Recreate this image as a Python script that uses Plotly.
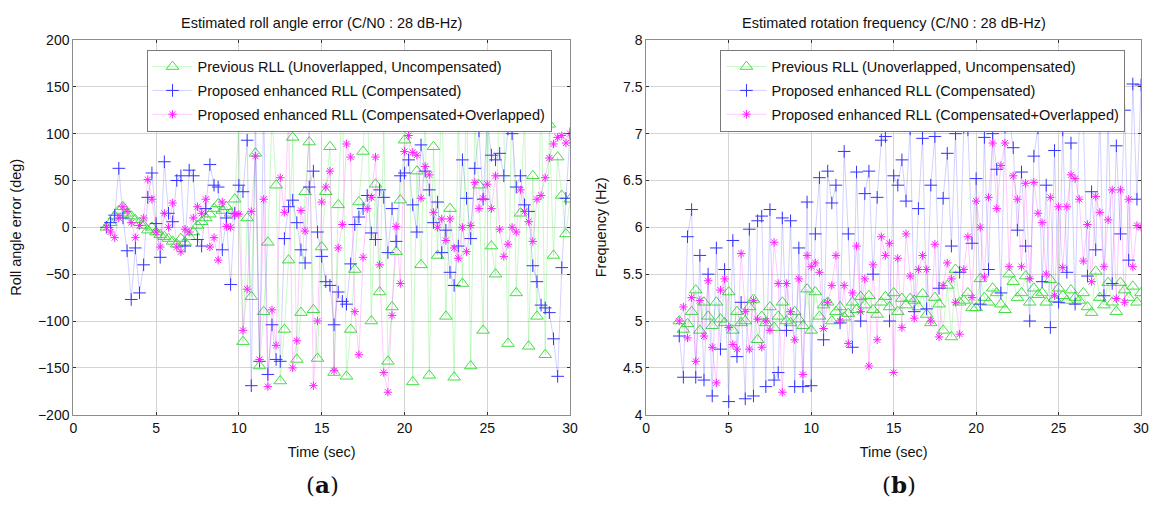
import plotly.graph_objects as go

# ---------------- data ----------------
time_s = [
    2.0, 2.25, 2.5, 2.75, 3.0, 3.25, 3.5, 3.75,
    4.0, 4.25, 4.5, 4.75, 5.0, 5.25, 5.5, 5.75,
    6.0, 6.25, 6.5, 6.75, 7.0, 7.25, 7.5, 7.75,
    8.0, 8.25, 8.5, 8.75, 9.0, 9.25, 9.5, 9.75,
    10.0, 10.25, 10.5, 10.75, 11.0, 11.25, 11.5, 11.75,
    12.0, 12.25, 12.5, 12.75, 13.0, 13.25, 13.5, 13.75,
    14.0, 14.25, 14.5, 14.75, 15.0, 15.25, 15.5, 15.75,
    16.0, 16.25, 16.5, 16.75, 17.0, 17.25, 17.5, 17.75,
    18.0, 18.25, 18.5, 18.75, 19.0, 19.25, 19.5, 19.75,
    20.0, 20.25, 20.5, 20.75, 21.0, 21.25, 21.5, 21.75,
    22.0, 22.25, 22.5, 22.75, 23.0, 23.25, 23.5, 23.75,
    24.0, 24.25, 24.5, 24.75, 25.0, 25.25, 25.5, 25.75,
    26.0, 26.25, 26.5, 26.75, 27.0, 27.25, 27.5, 27.75,
    28.0, 28.25, 28.5, 28.75, 29.0, 29.25, 29.5, 29.75,
    30.0,
]

# (a) roll angle error (deg)
roll_prev = [
    0, 5, 12, 18, 22, 15, 12, 8,
    5, 2, -3, 0, -5, -8, -10, -12,
    -15, -18, -12, -16, -10, -5, 2, 6,
    10, 14, 20, 25, 18, 22, 15, 30,
    110, -122, 10, -74, 79, -148, -90, -16,
    119, 45, -164, -109, -35, 96, -141, -91,
    38, 91, -88, -140, -21, 38, 86, -155,
    24, 150, -159, -109, -45, 27, 81, 170,
    -100, 46, -69, 107, -143, -85, -26, 29,
    93, 175, -165, 60, -40, 130, -158, 86,
    -30, 160, -95, 20, -160, 120, -60, 150,
    -148, 110, 45, -110, 140, -20, -50, 180,
    110, -124, 170, -70, 15, 120, -127, 55,
    -95, 160, -136, 110, -30, 75, 34, -7,
    30,
]
roll_comp = [
    0, 5, 13, 63, 10, -25, -77, -22,
    -70, -40, 32, 58, 4, -32, 70, 15,
    6, 50, 55, -20, 61, 55, -13, -20,
    20, 67, 45, 43, -24, 10, -61, 15,
    45, 38, 93, -169, 120, -143, 130, -157,
    -104, -141, -143, -12, 22, 29, 5, -24,
    -38, 43, 60, -5, -31, -58, -62, -104,
    -69, -79, -82, -39, 3, 11, 20, 34,
    -6, -13, 40, 32, -27, 20, -15, 55,
    58, 72, 24, -5, 88, 60, 40, 5,
    27, -27, -3, -48, -62, -20, 72, 31,
    -12, 63, 103, 30, 115, 77, 72, 79,
    55, 105, 100, 43, 55, 24, 17, -41,
    -58, -83, -86, -91, -119, -159, -43, 31,
    100,
]
roll_overlap = [
    0, -5, -11, 10, 22, 17, 5, -11,
    2, 10, 51, 30, -5, -21, 15, 0,
    26, -21, -26, -2, -5, 10, 22, 15,
    30, -21, -11, -35, 27, 1, 0, 14,
    14, -110, -66, 17, 76, -141, 30, -170,
    -88, -126, 53, 16, 117, -150, -121, 18,
    -4, 117, -169, -100, 27, 43, 60, -153,
    -22, 3, 89, 75, -90, -136, -32, 20,
    32, 75, -40, -155, -176, -94, 1, -60,
    81, 98, 80, 77, 31, 65, 56, 16,
    0, 9, -14, 9, -22, -33, 0, -26,
    2, 48, 20, 31, 46, 20, 55, -2,
    -31, -18, 0, -5, 40, 17, 6, -15,
    30, 34, 53, 74, 89, 96, 98, 90,
    100,
]

# (b) rotation frequency (Hz)
freq_prev = [
    5.00, 4.91, 4.97, 5.10, 5.33, 4.90, 5.20, 5.05,
    4.95, 5.20, 5.02, 4.98, 5.31, 4.90, 5.10, 4.98,
    5.00, 5.15, 5.23, 4.80, 5.05, 4.98, 5.15, 4.93,
    5.05, 5.20, 5.00, 4.98, 5.10, 5.02, 4.95, 5.34,
    4.90, 5.31, 5.05, 5.17, 5.20, 5.00, 5.10, 5.15,
    5.04, 5.08, 5.20, 5.12, 5.26, 5.17, 5.27, 5.12,
    5.07, 5.20, 5.26, 5.15, 5.30, 5.10, 5.24, 5.17,
    5.24, 5.22, 5.15, 5.29, 5.07, 4.98, 5.25, 5.18,
    4.90, 5.38, 4.83, 5.55, 5.20, 5.22, 5.30, 5.14,
    5.14, 5.45, 5.25, 5.20, 5.35, 5.30, 5.18, 5.12,
    5.50, 5.42, 5.25, 5.30, 5.48, 5.20, 5.35, 5.28,
    5.30, 5.20, 5.44, 5.24, 5.35, 5.27, 5.22, 5.33,
    5.25, 5.22, 5.30, 5.15, 5.09, 5.53, 5.25, 5.17,
    5.41, 5.20, 5.10, 5.41, 5.33, 5.25, 5.37, 5.20,
    5.30,
]
freq_comp = [
    4.84, 4.40, 5.90, 6.19, 4.40, 5.70, 4.37, 5.50,
    4.20, 5.78, 4.70, 5.55, 4.14, 5.86, 4.62, 5.20,
    4.17, 5.98, 4.20, 6.07, 6.12, 4.30, 6.19, 4.37,
    4.45, 6.10, 4.90, 6.07, 4.30, 5.78, 4.30, 6.27,
    4.31, 5.93, 6.53, 4.80, 6.60, 6.26, 6.45, 4.98,
    6.81, 5.93, 4.72, 6.59, 5.00, 6.36, 6.60, 5.50,
    6.32, 6.93, 6.97, 5.00, 6.55, 6.45, 6.72, 6.28,
    7.05, 5.10, 6.20, 6.95, 5.13, 6.45, 6.97, 5.35,
    6.31, 6.79, 5.80, 7.00, 5.52, 7.07, 7.04, 5.83,
    6.52, 5.18, 6.96, 5.55, 7.00, 6.62, 5.30, 7.07,
    7.17, 6.85, 5.97, 6.59, 5.80, 5.00, 6.76, 7.06,
    5.42, 6.45, 4.93, 6.82, 5.20, 7.04, 5.52, 6.90,
    5.18, 7.10, 7.16, 5.48, 6.38, 5.76, 7.20, 5.27,
    7.20, 5.40, 6.87, 5.93, 7.25, 5.65, 7.53, 6.30,
    7.52,
]
freq_overlap = [
    5.00, 5.15, 4.82, 5.25, 4.57, 5.22, 4.84, 5.43,
    4.72, 4.34, 5.33, 5.45, 4.93, 4.75, 4.70, 5.72,
    5.10, 4.70, 5.22, 5.02, 4.72, 5.00, 4.90, 5.84,
    5.40, 4.24, 5.40, 5.10, 4.80, 5.45, 4.43, 5.70,
    5.58, 5.62, 5.52, 4.92, 5.20, 5.38, 5.70, 5.00,
    5.38, 4.76, 5.30, 5.80, 5.10, 5.45, 4.52, 5.60,
    4.80, 5.90, 5.70, 5.83, 4.45, 5.67, 4.93, 5.93,
    5.48, 5.03, 5.55, 5.70, 5.55, 5.00, 5.82, 4.83,
    5.38, 5.62, 5.45, 5.20, 4.86, 5.55, 5.90, 5.25,
    6.28, 6.00, 5.47, 6.32, 6.90, 6.20, 6.66, 6.90,
    5.58, 6.55, 6.30, 5.58, 6.47, 5.45, 6.48, 6.15,
    6.05, 5.50, 6.32, 5.27, 6.22, 5.57, 6.22, 6.56,
    6.52, 6.30, 5.64, 6.03, 5.42, 6.33, 6.16, 5.58,
    6.08, 6.40, 5.24, 6.40, 5.20, 6.30, 5.58, 6.02,
    6.00,
]

series_names = [
    "Previous RLL (Unoverlapped, Uncompensated)",
    "Proposed enhanced RLL (Compensated)",
    "Proposed enhanced RLL (Compensated+Overlapped)",
]
x_ticks = [0, 5, 10, 15, 20, 25, 30]
roll_ticks = [-200, -150, -100, -50, 0, 50, 100, 150, 200]
freq_ticks = [4, 4.5, 5, 5.5, 6, 6.5, 7, 7.5, 8]

# ---------------- styling ----------------
FONT = "Liberation Sans, Arial, sans-serif"
W, H = 1156, 506
styles = [
    dict(line=dict(color="rgba(60,230,60,0.4)", width=0.7),
         marker=dict(symbol="triangle-up-open", size=11, color="#44dd44",
                     line=dict(width=1, color="#44dd44"))),
    dict(line=dict(color="rgba(40,40,255,0.3)", width=0.7),
         marker=dict(symbol="cross-thin-open", size=9, color="#3333ff",
                     line=dict(width=1, color="#3333ff"))),
    dict(line=dict(color="rgba(255,0,255,0.3)", width=0.7),
         marker=dict(symbol="asterisk-open", size=7, color="#ff22ff",
                     line=dict(width=1, color="#ff22ff"))),
]

fig = go.Figure()
for i, ys in enumerate([roll_prev, roll_comp, roll_overlap]):
    fig.add_trace(go.Scatter(x=time_s, y=ys, mode="lines+markers",
                             name=series_names[i], xaxis="x", yaxis="y",
                             legend="legend", legendgroup="a%d" % i,
                             **styles[i]))
for i, ys in enumerate([freq_prev, freq_comp, freq_overlap]):
    fig.add_trace(go.Scatter(x=time_s, y=ys, mode="lines+markers",
                             name=series_names[i], xaxis="x2", yaxis="y2",
                             legend="legend2", legendgroup="b%d" % i,
                             **styles[i]))

def px_x(p):
    return p / W

def px_y(p):
    return 1 - p / H

axis_common = dict(
    showline=True, linecolor="#8c8c8c", linewidth=1, mirror="ticks",
    ticks="inside", ticklen=3, tickcolor="#333333",
    showgrid=True, gridcolor="#d4d4d4", gridwidth=1,
    zeroline=False, tickfont=dict(family=FONT, size=14, color="#111"),
)

left_dom = [px_x(70), px_x(572)]
right_dom = [px_x(649), px_x(1149)]
y_dom = [px_y(420), px_y(33)]

title_font = dict(family=FONT, size=14.5, color="#111")

fig.update_layout(
    width=W, height=H,
    margin=dict(l=0, r=0, t=0, b=0),
    paper_bgcolor="white", plot_bgcolor="white",
    font=dict(family=FONT, size=14, color="#111"),
    showlegend=True,
    xaxis=dict(domain=left_dom, range=[0, 30], tickvals=x_ticks, anchor="y",
               title=dict(text="Time (sec)", font=title_font, standoff=12),
               **axis_common),
    yaxis=dict(domain=y_dom, range=[-200, 200], tickvals=roll_ticks, anchor="x",
               title=dict(text="Roll angle error (deg)", font=title_font, standoff=12),
               **axis_common),
    xaxis2=dict(domain=right_dom, range=[0, 30], tickvals=x_ticks, anchor="y2",
                title=dict(text="Time (sec)", font=title_font, standoff=12),
                **axis_common),
    yaxis2=dict(domain=y_dom, range=[4, 8], tickvals=freq_ticks, anchor="x2",
                title=dict(text="Frequency (Hz)", font=title_font, standoff=12),
                **axis_common),
    legend=dict(x=px_x(144), y=px_y(43), xanchor="left", yanchor="top",
                bgcolor="white", bordercolor="#7a7a7a", borderwidth=1,
                font=dict(family=FONT, size=14.5, color="#111"),
                tracegroupgap=2, itemwidth=40),
    legend2=dict(x=px_x(724), y=px_y(43), xanchor="left", yanchor="top",
                 bgcolor="white", bordercolor="#7a7a7a", borderwidth=1,
                 font=dict(family=FONT, size=14.5, color="#111"),
                 tracegroupgap=2, itemwidth=40),
    annotations=[
        dict(text="Estimated roll angle error (C/N0 : 28 dB-Hz)", x=(left_dom[0] + left_dom[1]) / 2,
             y=px_y(5), xref="paper", yref="paper", xanchor="center", yanchor="top",
             showarrow=False, font=title_font),
        dict(text="Estimated rotation frequency (C/N0 : 28 dB-Hz)", x=(right_dom[0] + right_dom[1]) / 2,
             y=px_y(5), xref="paper", yref="paper", xanchor="center", yanchor="top",
             showarrow=False, font=title_font),
        dict(text="(<b>a</b>)", x=px_x(322), y=px_y(492), xref="paper", yref="paper",
             xanchor="center", yanchor="middle", showarrow=False,
             font=dict(family="DejaVu Serif, Liberation Serif, serif", size=23, color="#111")),
        dict(text="(<b>b</b>)", x=px_x(904), y=px_y(492), xref="paper", yref="paper",
             xanchor="center", yanchor="middle", showarrow=False,
             font=dict(family="DejaVu Serif, Liberation Serif, serif", size=23, color="#111")),
    ],
)

fig.write_html("out.html")
